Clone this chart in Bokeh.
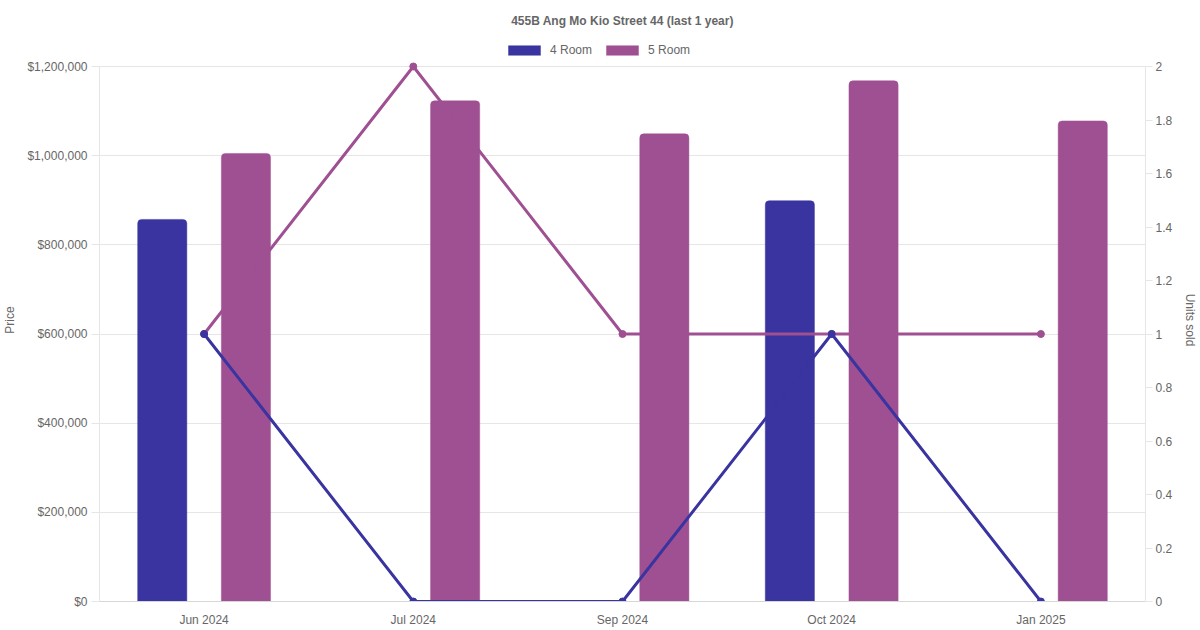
from bokeh.plotting import figure
from bokeh.models import (FactorRange, Range1d, LinearAxis, FixedTicker, NumeralTickFormatter,
                          CustomJSTickFormatter, ColumnDataSource, Legend, LegendItem)
from bokeh.transform import dodge
from bokeh.embed import file_html
from bokeh.resources import INLINE

months = ["Jun 2024", "Jul 2024", "Sep 2024", "Oct 2024", "Jan 2025"]
price_4room = [857000, None, None, 899000, None]
price_5room = [1005000, 1123000, 1049000, 1168000, 1078000]
units_4room = [1, 0, 0, 1, 0]
units_5room = [1, 2, 1, 1, 1]
price_ticks = [0, 200000, 400000, 600000, 800000, 1000000, 1200000]
unit_ticks = [0, 0.2, 0.4, 0.6, 0.8, 1, 1.2, 1.4, 1.6, 1.8, 2]

C4 = "#3934a0"
C5 = "#9f5092"
TXT = "#666666"
FONT = "Liberation Sans"
GRID = "#e6e6e6"

# layout (pixels): the frame also holds the legend strip above the data area
W, H = 1200, 630
TOP, BOTTOM, LEFT, RIGHT = 38, 29, 98, 53
DATA_TOP_GAP = 28          # legend strip inside the frame, above the top tick
frame_h = H - TOP - BOTTOM
data_h = frame_h - DATA_TOP_GAP
scale = frame_h / data_h


def bar_source(prices):
    xs = [m for m, v in zip(months, prices) if v is not None]
    ys = [v for v in prices if v is not None]
    return ColumnDataSource(dict(month=xs, price=ys))


src4 = bar_source(price_4room)
src5 = bar_source(price_5room)
srcu = ColumnDataSource(dict(month=months, u4=units_4room, u5=units_5room))

p = figure(x_range=FactorRange(factors=months),
           y_range=Range1d(0, price_ticks[-1] * scale),
           width=W, height=H, output_backend="svg", toolbar_location=None,
           min_border_left=LEFT, min_border_right=RIGHT,
           min_border_top=TOP, min_border_bottom=BOTTOM)
p.extra_y_ranges = {"units": Range1d(0, unit_ticks[-1] * scale)}
p.outline_line_color = None
p.background_fill_color = "white"

r4 = p.vbar(x=dodge("month", -0.2, range=p.x_range), top="price", width=0.235, source=src4,
            fill_color=C4, line_color=C4, line_alpha=0.45, line_width=1,
            border_radius=(4, 4, 0, 0))
r5 = p.vbar(x=dodge("month", 0.2, range=p.x_range), top="price", width=0.235, source=src5,
            fill_color=C5, line_color=C5, line_alpha=0.45, line_width=1,
            border_radius=(4, 4, 0, 0))

p.line(x="month", y="u5", source=srcu, y_range_name="units", line_color=C5, line_width=3)
p.scatter(x="month", y="u5", source=srcu, y_range_name="units", size=7,
          fill_color=C5, line_color=C5)
p.line(x="month", y="u4", source=srcu, y_range_name="units", line_color=C4, line_width=3)
p.scatter(x="month", y="u4", source=srcu, y_range_name="units", size=7,
          fill_color=C4, line_color=C4)

# left axis
ly = p.yaxis[0]
ly.ticker = FixedTicker(ticks=price_ticks)
ly.formatter = NumeralTickFormatter(format="$0,0")
ly.axis_label = "Price"
ly.bounds = (price_ticks[0], price_ticks[-1])

# right axis
ry = LinearAxis(y_range_name="units", ticker=FixedTicker(ticks=unit_ticks),
                formatter=CustomJSTickFormatter(code="return String(Math.round(tick*10)/10);"),
                axis_label="Units sold", bounds=(unit_ticks[0], unit_ticks[-1]))
p.add_layout(ry, "right")

for ax in (ly, ry):
    ax.axis_line_color = GRID
    ax.major_tick_line_color = GRID
    ax.minor_tick_line_color = None
    ax.major_tick_in = 0

ly.major_tick_out = 8
ly.major_label_standoff = 4
ly.axis_label_standoff = 7
ry.major_tick_out = 7
ry.major_label_standoff = 3
ry.axis_label_standoff = 8

bx = p.xaxis[0]
bx.axis_line_color = "#d6d6d6"
bx.major_tick_line_color = None
bx.major_tick_out = 0
bx.major_tick_in = 0
bx.minor_tick_line_color = None
bx.major_label_standoff = 11

for ax in (ly, ry, bx):
    ax.major_label_text_font = FONT
    ax.major_label_text_font_size = "12px"
    ax.major_label_text_color = TXT
    ax.axis_label_text_font = FONT
    ax.axis_label_text_font_size = "12px"
    ax.axis_label_text_color = TXT
    ax.axis_label_text_font_style = "normal"

p.xgrid.visible = False
p.ygrid.grid_line_color = GRID

p.title.text = "455B Ang Mo Kio Street 44 (last 1 year)"
p.title.align = "center"
p.title.text_font = FONT
p.title.text_font_size = "12px"
p.title.text_font_style = "bold"
p.title.text_color = TXT
p.title.standoff = 21

legend = Legend(items=[LegendItem(label="4 Room", renderers=[r4]),
                       LegendItem(label="5 Room", renderers=[r5])],
                orientation="horizontal", location=(405, data_h + 9),
                glyph_width=40, glyph_height=12, label_standoff=6, spacing=10,
                padding=0, margin=0, border_line_color=None, background_fill_alpha=0,
                label_text_font=FONT, label_text_font_size="12px", label_text_color=TXT,
                label_height=12)
p.add_layout(legend, "center")

open("out.html", "w").write(file_html(p, INLINE))
